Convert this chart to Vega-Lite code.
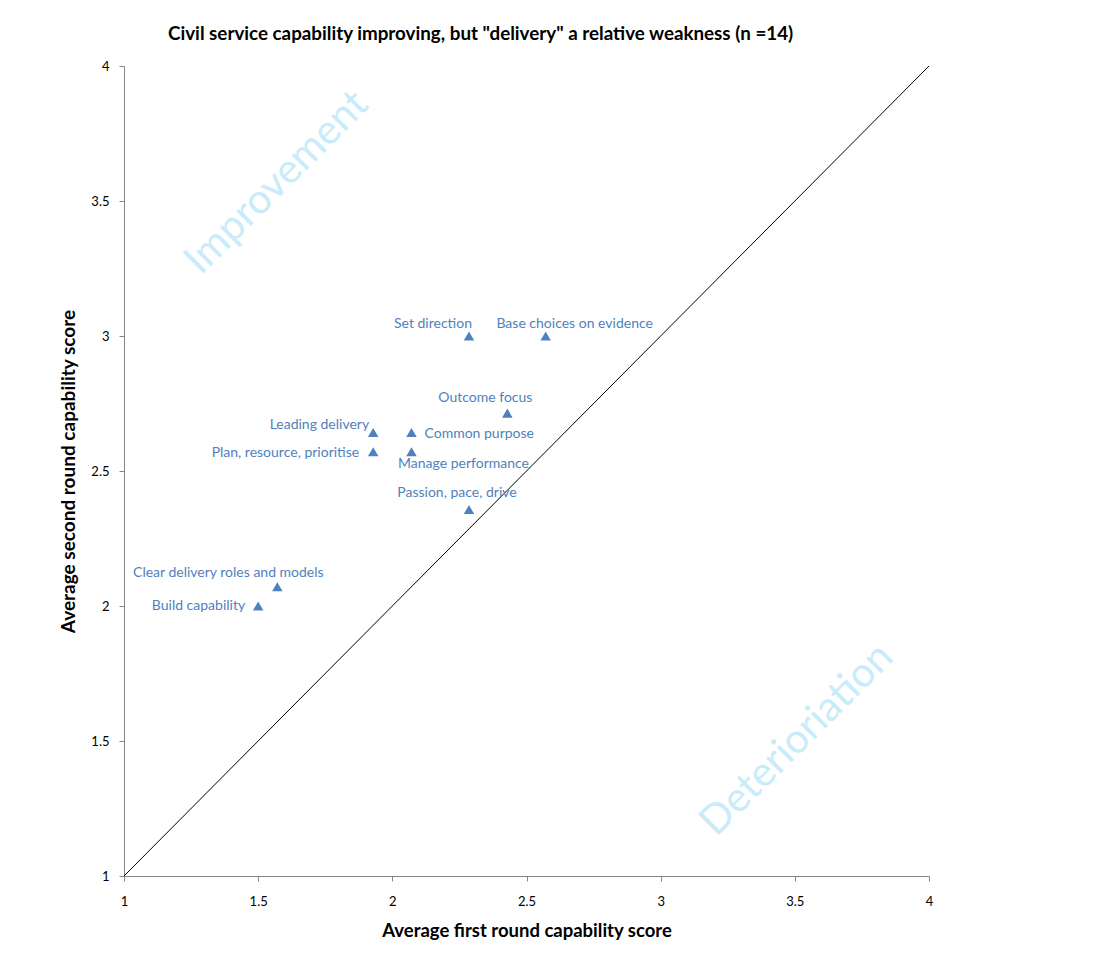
{
  "$schema": "https://vega.github.io/schema/vega-lite/v6.json",
  "width": 805,
  "height": 810,
  "autosize": {"type": "none"},
  "padding": {"left": 124, "top": 66, "right": 186, "bottom": 94},
  "background": "white",
  "config": {
    "view": {"stroke": null},
    "font": "Lato"
  },
  "title": {
    "text": "Civil service capability improving, but \"delivery\" a relative weakness (n =14)",
    "anchor": "start",
    "frame": "group",
    "dx": 44,
    "offset": 16,
    "font": "Lato",
    "fontSize": 18.8,
    "fontWeight": "bold",
    "color": "black"
  },
  "datasets": {
    "pts": [
      {"name": "Set direction", "x": 2.2857, "y": 3.0},
      {"name": "Base choices on evidence", "x": 2.5714, "y": 3.0},
      {"name": "Outcome focus", "x": 2.4286, "y": 2.7143},
      {"name": "Leading delivery", "x": 1.9286, "y": 2.6429},
      {"name": "Common purpose", "x": 2.0714, "y": 2.6429},
      {"name": "Plan, resource, prioritise", "x": 1.9286, "y": 2.5714},
      {"name": "Manage performance", "x": 2.0714, "y": 2.5714},
      {"name": "Passion, pace, drive", "x": 2.2857, "y": 2.3571},
      {"name": "Clear delivery roles and models", "x": 1.5714, "y": 2.0714},
      {"name": "Build capability", "x": 1.5, "y": 2.0}
    ]
  },
  "encoding": {
    "x": {
      "field": "x", "type": "quantitative",
      "scale": {"domain": [1, 4], "nice": false, "zero": false},
      "axis": {
        "title": "Average first round capability score",
        "values": [1, 1.5, 2, 2.5, 3, 3.5, 4],
        "format": "~g",
        "grid": false,
        "domainColor": "#868686", "tickColor": "#868686",
        "tickSize": 5, "labelPadding": 14, "labelFlush": false,
        "labelFont": "Lato", "labelFontSize": 13, "labelColor": "black",
        "titleFont": "Lato", "titleFontSize": 18.5, "titleFontWeight": "bold", "titleColor": "black",
        "titlePadding": 13
      }
    },
    "y": {
      "field": "y", "type": "quantitative",
      "scale": {"domain": [1, 4], "nice": false, "zero": false},
      "axis": {
        "title": "Average second round capability score",
        "values": [1, 1.5, 2, 2.5, 3, 3.5, 4],
        "format": "~g",
        "grid": false,
        "domainColor": "#868686", "tickColor": "#868686",
        "tickSize": 5, "labelPadding": 10, "labelFlush": false,
        "labelFont": "Lato", "labelFontSize": 13, "labelColor": "black",
        "titleFont": "Lato", "titleFontSize": 19, "titleFontWeight": "bold", "titleColor": "black",
        "titlePadding": 12
      }
    }
  },
  "layer": [
    {
      "data": {"values": [{"x": 1, "y": 1}, {"x": 4, "y": 4}]},
      "mark": {"type": "line", "color": "black", "strokeWidth": 1}
    },
    {
      "data": {"values": [
        {"x": 1.57, "y": 3.567, "label": "Improvement"},
        {"x": 3.508, "y": 1.504, "label": "Deterioriation"}
      ]},
      "mark": {"type": "text", "angle": -45, "fontSize": 41, "font": "Lato", "color": "#C9ECFA", "align": "center", "baseline": "middle"},
      "encoding": {"text": {"field": "label"}}
    },
    {
      "data": {"name": "pts"},
      "mark": {"type": "point", "shape": "triangle-up", "filled": true, "size": 110, "color": "#4F81BD", "opacity": 1}
    },
    {
      "data": {"name": "pts"},
      "transform": [{"filter": {"field": "name", "equal": "Set direction"}}],
      "mark": {"type": "text", "align": "center", "baseline": "alphabetic", "dx": -36, "dy": -8, "fontSize": 14, "font": "Lato", "color": "#4F81BD"},
      "encoding": {"text": {"field": "name"}}
    },
    {
      "data": {"name": "pts"},
      "transform": [{"filter": {"field": "name", "equal": "Base choices on evidence"}}],
      "mark": {"type": "text", "align": "center", "baseline": "alphabetic", "dx": 29, "dy": -8, "fontSize": 14, "font": "Lato", "color": "#4F81BD"},
      "encoding": {"text": {"field": "name"}}
    },
    {
      "data": {"name": "pts"},
      "transform": [{"filter": {"field": "name", "equal": "Outcome focus"}}],
      "mark": {"type": "text", "align": "center", "baseline": "alphabetic", "dx": -22, "dy": -11, "fontSize": 14, "font": "Lato", "color": "#4F81BD"},
      "encoding": {"text": {"field": "name"}}
    },
    {
      "data": {"name": "pts"},
      "transform": [{"filter": {"field": "name", "equal": "Common purpose"}}],
      "mark": {"type": "text", "align": "left", "baseline": "alphabetic", "dx": 13, "dy": 6, "fontSize": 14, "font": "Lato", "color": "#4F81BD"},
      "encoding": {"text": {"field": "name"}}
    },
    {
      "data": {"name": "pts"},
      "transform": [{"filter": {"field": "name", "equal": "Manage performance"}}],
      "mark": {"type": "text", "align": "center", "baseline": "alphabetic", "dx": 52, "dy": 16, "fontSize": 14, "font": "Lato", "color": "#4F81BD"},
      "encoding": {"text": {"field": "name"}}
    },
    {
      "data": {"name": "pts"},
      "transform": [{"filter": {"field": "name", "equal": "Passion, pace, drive"}}],
      "mark": {"type": "text", "align": "center", "baseline": "alphabetic", "dx": -12, "dy": -13, "fontSize": 14, "font": "Lato", "color": "#4F81BD"},
      "encoding": {"text": {"field": "name"}}
    },
    {
      "data": {"name": "pts"},
      "transform": [{"filter": {"field": "name", "equal": "Clear delivery roles and models"}}],
      "mark": {"type": "text", "align": "center", "baseline": "alphabetic", "dx": -49, "dy": -10, "fontSize": 14, "font": "Lato", "color": "#4F81BD"},
      "encoding": {"text": {"field": "name"}}
    },
    {
      "data": {"name": "pts"},
      "transform": [{"filter": {"field": "name", "equal": "Build capability"}}],
      "mark": {"type": "text", "align": "right", "baseline": "alphabetic", "dx": -13, "dy": 4, "fontSize": 14, "font": "Lato", "color": "#4F81BD"},
      "encoding": {"text": {"field": "name"}}
    },
    {
      "data": {"name": "pts"},
      "transform": [{"filter": {"field": "name", "equal": "Leading delivery"}}],
      "mark": {"type": "text", "align": "right", "baseline": "alphabetic", "dx": -4, "dy": -3, "fontSize": 14, "font": "Lato", "color": "#4F81BD"},
      "encoding": {"text": {"field": "name"}}
    },
    {
      "data": {"name": "pts"},
      "transform": [{"filter": {"field": "name", "equal": "Plan, resource, prioritise"}}],
      "mark": {"type": "text", "align": "right", "baseline": "alphabetic", "dx": -14, "dy": 5, "fontSize": 14, "font": "Lato", "color": "#4F81BD"},
      "encoding": {"text": {"field": "name"}}
    }
  ]
}
